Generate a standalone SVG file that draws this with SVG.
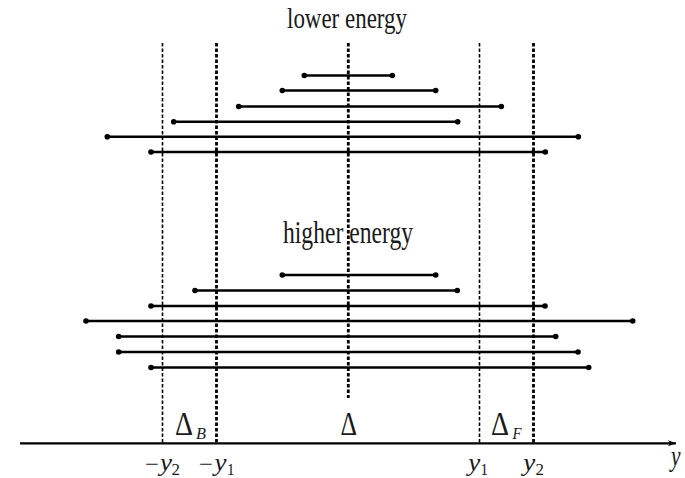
<svg xmlns="http://www.w3.org/2000/svg" width="685" height="478" viewBox="0 0 685 478">
<style>
.seg{stroke:#000;stroke-width:2.6;fill:none}
.dot{fill:#000}
.dthin{stroke:#000;stroke-width:1.6;stroke-dasharray:3.5 2;fill:none}
.dthick{stroke:#000;stroke-width:2.8;stroke-dasharray:3.5 2;fill:none}
.axis{stroke:#000;stroke-width:2.2;fill:none}
.rm{font-family:"Liberation Serif","DejaVu Serif",serif;fill:#1a1a1a}
.it{font-family:"Liberation Serif","DejaVu Serif",serif;font-style:italic;fill:#1a1a1a}
</style>
<defs>
<marker id="arr" markerWidth="10" markerHeight="8" refX="8" refY="3" orient="auto" markerUnits="userSpaceOnUse">
<path d="M0,0 L8,3 L0,6 L2,3 Z" fill="#000"/>
</marker>
</defs>
<rect width="685" height="478" fill="#fff"/>
<g id="titles">
<text class="rm" x="287" y="28" font-size="30" textLength="120" lengthAdjust="spacingAndGlyphs">lower energy</text>
<text class="rm" x="283" y="243" font-size="31" textLength="130" lengthAdjust="spacingAndGlyphs">higher energy</text>
</g>
<g id="connectors">
<line class="dthin" x1="162.5" y1="43" x2="162.5" y2="443"/>
<line class="dthick" x1="216.5" y1="43" x2="216.5" y2="443"/>
<line class="dthick" x1="348.3" y1="43" x2="348.3" y2="398"/>
<line class="dthin" x1="479.5" y1="43" x2="479.5" y2="443"/>
<line class="dthick" x1="533.5" y1="43" x2="533.5" y2="443"/>
<line class="axis" x1="20" y1="443.3" x2="676" y2="443.3" marker-end="url(#arr)"/>
</g>
<g id="lower-energy-intervals">
<line class="seg" x1="304.3" y1="75.5" x2="392.3" y2="75.5"/><circle class="dot" cx="304.3" cy="75.5" r="2.8"/><circle class="dot" cx="392.3" cy="75.5" r="2.8"/>
<line class="seg" x1="282.3" y1="90.5" x2="435.7" y2="90.5"/><circle class="dot" cx="282.3" cy="90.5" r="2.8"/><circle class="dot" cx="435.7" cy="90.5" r="2.8"/>
<line class="seg" x1="238.7" y1="106.5" x2="501.3" y2="106.5"/><circle class="dot" cx="238.7" cy="106.5" r="2.8"/><circle class="dot" cx="501.3" cy="106.5" r="2.8"/>
<line class="seg" x1="173.7" y1="121.8" x2="457.7" y2="121.8"/><circle class="dot" cx="173.7" cy="121.8" r="2.8"/><circle class="dot" cx="457.7" cy="121.8" r="2.8"/>
<line class="seg" x1="107.3" y1="136.7" x2="578.3" y2="136.7"/><circle class="dot" cx="107.3" cy="136.7" r="2.8"/><circle class="dot" cx="578.3" cy="136.7" r="2.8"/>
<line class="seg" x1="151" y1="152" x2="545.3" y2="152"/><circle class="dot" cx="151" cy="152" r="2.8"/><circle class="dot" cx="545.3" cy="152" r="2.8"/>
</g>
<g id="higher-energy-intervals">
<line class="seg" x1="282.3" y1="275" x2="435.7" y2="275"/><circle class="dot" cx="282.3" cy="275" r="2.8"/><circle class="dot" cx="435.7" cy="275" r="2.8"/>
<line class="seg" x1="195" y1="290.5" x2="457.3" y2="290.5"/><circle class="dot" cx="195" cy="290.5" r="2.8"/><circle class="dot" cx="457.3" cy="290.5" r="2.8"/>
<line class="seg" x1="151" y1="306" x2="545" y2="306"/><circle class="dot" cx="151" cy="306" r="2.8"/><circle class="dot" cx="545" cy="306" r="2.8"/>
<line class="seg" x1="86" y1="321" x2="632.7" y2="321"/><circle class="dot" cx="86" cy="321" r="2.8"/><circle class="dot" cx="632.7" cy="321" r="2.8"/>
<line class="seg" x1="118.7" y1="336.5" x2="555.7" y2="336.5"/><circle class="dot" cx="118.7" cy="336.5" r="2.8"/><circle class="dot" cx="555.7" cy="336.5" r="2.8"/>
<line class="seg" x1="118.7" y1="352" x2="578" y2="352"/><circle class="dot" cx="118.7" cy="352" r="2.8"/><circle class="dot" cx="578" cy="352" r="2.8"/>
<line class="seg" x1="151" y1="367.5" x2="588.7" y2="367.5"/><circle class="dot" cx="151" cy="367.5" r="2.8"/><circle class="dot" cx="588.7" cy="367.5" r="2.8"/>
</g>
<g id="region-labels">
<text class="rm" x="175" y="434.5" font-size="34" textLength="18" lengthAdjust="spacingAndGlyphs">Δ</text>
<text class="it" x="196" y="439" font-size="16" textLength="10" lengthAdjust="spacingAndGlyphs">B</text>
<text class="rm" x="340.5" y="434.5" font-size="34" textLength="16.5" lengthAdjust="spacingAndGlyphs">Δ</text>
<text class="rm" x="491" y="434.5" font-size="34" textLength="18" lengthAdjust="spacingAndGlyphs">Δ</text>
<text class="it" x="512.5" y="439" font-size="16" textLength="9" lengthAdjust="spacingAndGlyphs">F</text>
</g>
<g id="tick-labels">
<text class="rm" x="145" y="472" font-size="24" textLength="14" lengthAdjust="spacingAndGlyphs">−</text>
<text class="it" x="160" y="471" font-size="26" textLength="12" lengthAdjust="spacingAndGlyphs">y</text>
<text class="rm" x="171.5" y="475" font-size="16" textLength="8.5" lengthAdjust="spacingAndGlyphs">2</text>
<text class="rm" x="199" y="472" font-size="24" textLength="14" lengthAdjust="spacingAndGlyphs">−</text>
<text class="it" x="214.5" y="471" font-size="26" textLength="12" lengthAdjust="spacingAndGlyphs">y</text>
<text class="rm" x="227" y="475" font-size="16" textLength="7.5" lengthAdjust="spacingAndGlyphs">1</text>
<text class="it" x="468.3" y="471" font-size="26" textLength="12" lengthAdjust="spacingAndGlyphs">y</text>
<text class="rm" x="480.5" y="475" font-size="16" textLength="7.5" lengthAdjust="spacingAndGlyphs">1</text>
<text class="it" x="523.3" y="471" font-size="26" textLength="12" lengthAdjust="spacingAndGlyphs">y</text>
<text class="rm" x="535.5" y="475" font-size="16" textLength="8.5" lengthAdjust="spacingAndGlyphs">2</text>
<text class="it" x="671" y="466" font-size="30" textLength="9.5" lengthAdjust="spacingAndGlyphs">y</text>
</g>
</svg>
